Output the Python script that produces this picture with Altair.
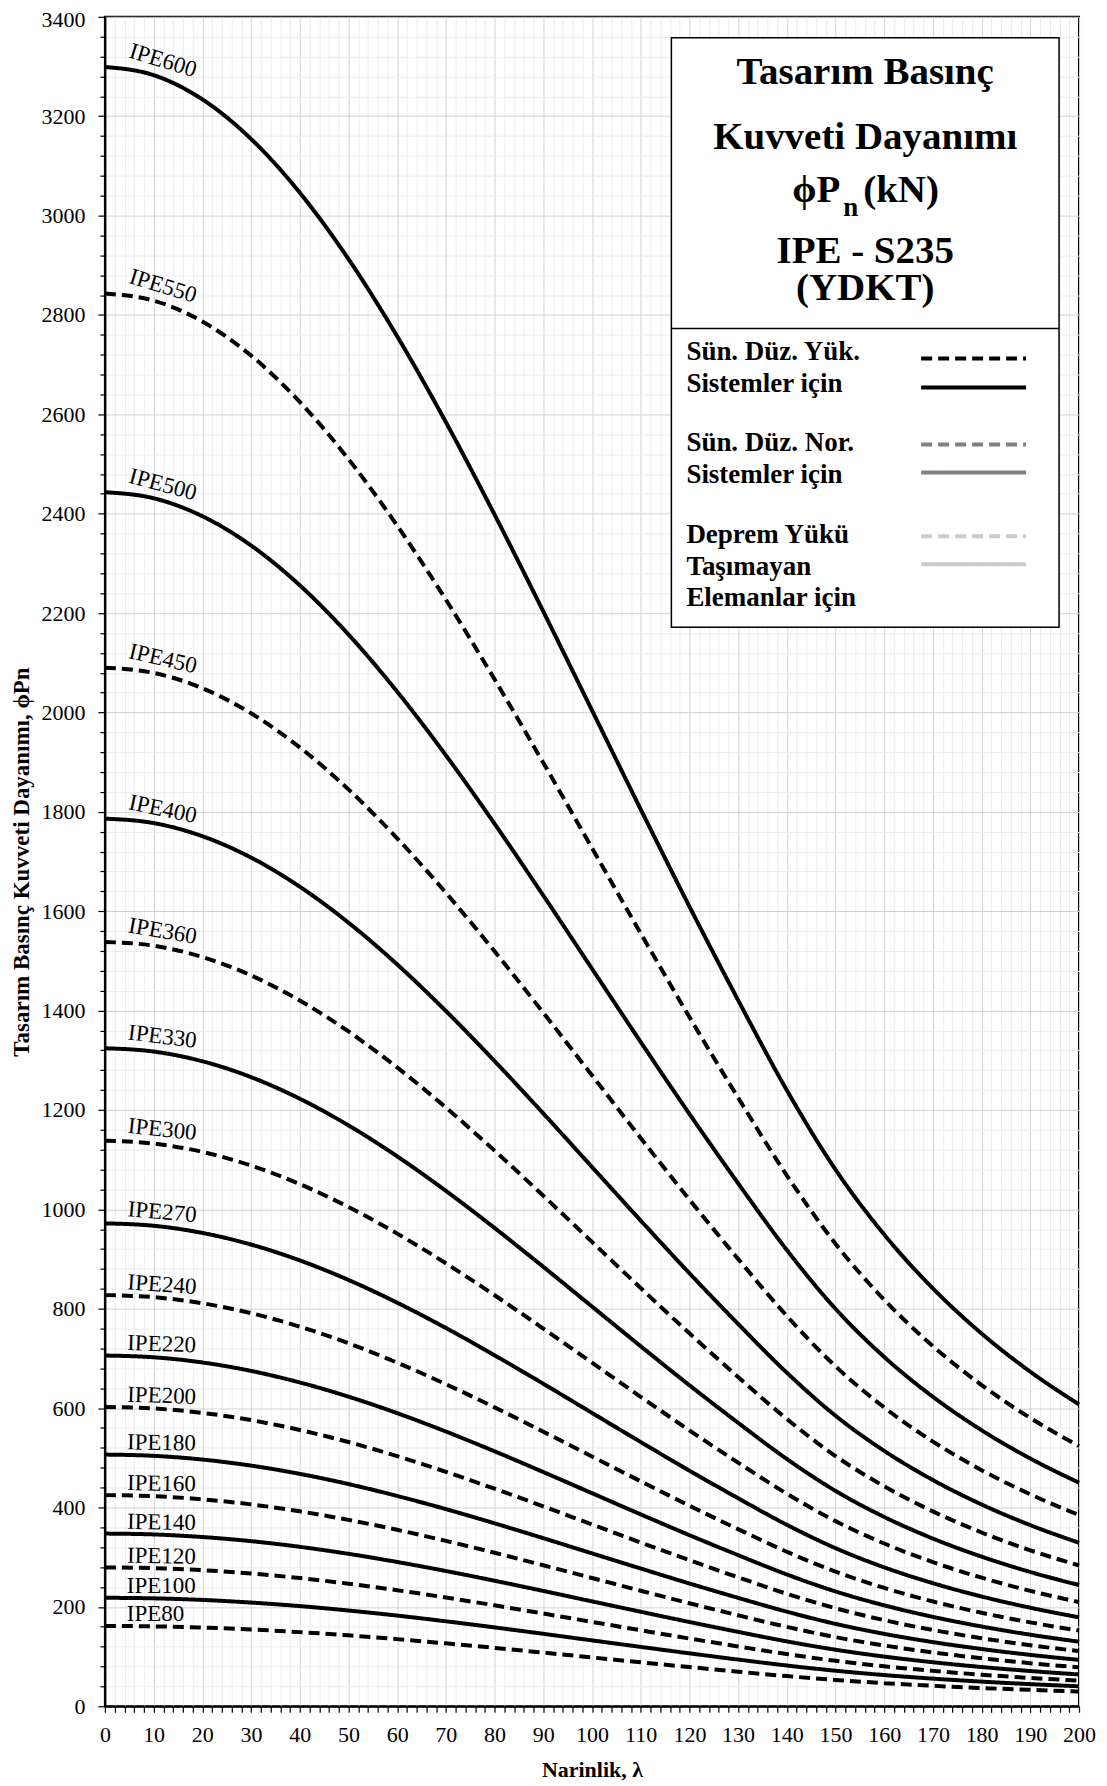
import altair as alt
import pandas as pd

# ---- data ----
lam = [0, 10, 20, 30, 40, 50, 60, 70, 80, 90, 100, 110, 120, 130, 140, 150, 160, 170, 180, 190, 200]

sections = ["IPE80", "IPE100", "IPE120", "IPE140", "IPE160", "IPE180", "IPE200", "IPE220", "IPE240",
            "IPE270", "IPE300", "IPE330", "IPE360", "IPE400", "IPE450", "IPE500", "IPE550", "IPE600"]
line_style = ["dashed", "solid", "dashed", "solid", "dashed", "solid", "dashed", "solid", "dashed",
              "solid", "dashed", "solid", "dashed", "solid", "dashed", "solid", "dashed", "solid"]

ipe80 = [161.6, 160.8, 158.4, 154.5, 149.2, 142.7, 135.1, 126.6, 117.5, 107.9, 98.2, 88.4, 78.9, 69.6, 60.7, 52.9, 46.5, 41.2, 36.7, 33.0, 29.8]
ipe100 = [218.3, 217.2, 214.0, 208.7, 201.6, 192.7, 182.5, 171.0, 158.7, 145.8, 132.6, 119.5, 106.5, 94.0, 82.0, 71.5, 62.8, 55.6, 49.6, 44.5, 40.2]
ipe120 = [279.4, 278.0, 273.9, 267.1, 258.0, 246.7, 233.5, 218.9, 203.1, 186.6, 169.8, 152.9, 136.3, 120.4, 105.0, 91.5, 80.4, 71.2, 63.5, 57.0, 51.5]
ipe140 = [347.5, 345.8, 340.6, 332.3, 320.9, 306.8, 290.4, 272.2, 252.6, 232.1, 211.1, 190.2, 169.6, 149.7, 130.6, 113.8, 100.0, 88.6, 79.0, 70.9, 64.0]
ipe160 = [424.9, 422.8, 416.5, 406.3, 392.3, 375.1, 355.1, 332.8, 308.9, 283.8, 258.2, 232.5, 207.3, 183.0, 159.7, 139.1, 122.3, 108.3, 96.6, 86.7, 78.2]
ipe180 = [506.5, 504.0, 496.5, 484.3, 467.7, 447.2, 423.3, 396.8, 368.2, 338.3, 307.7, 277.2, 247.1, 218.2, 190.4, 165.8, 145.7, 129.1, 115.2, 103.4, 93.3]
ipe200 = [602.3, 599.3, 590.4, 575.9, 556.1, 531.8, 503.4, 471.8, 437.8, 402.3, 365.9, 329.6, 293.9, 259.5, 226.4, 197.2, 173.3, 153.5, 136.9, 122.9, 110.9]
ipe220 = [705.8, 702.3, 691.9, 674.9, 651.7, 623.1, 589.9, 552.9, 513.1, 471.4, 428.8, 386.2, 344.4, 304.1, 265.3, 231.1, 203.1, 179.9, 160.5, 144.0, 130.0]
ipe240 = [827.4, 823.3, 811.1, 791.1, 764.0, 730.5, 691.5, 648.2, 601.5, 552.6, 502.7, 452.8, 403.7, 356.4, 311.0, 270.9, 238.1, 210.9, 188.1, 168.8, 152.4]
ipe270 = [971.8, 967.0, 952.6, 929.2, 897.3, 858.0, 812.2, 761.3, 706.4, 649.1, 590.4, 531.8, 474.2, 418.7, 365.2, 318.2, 279.6, 247.7, 220.9, 198.3, 179.0]
ipe300 = [1138.1, 1132.4, 1115.6, 1088.2, 1050.9, 1004.8, 951.2, 891.5, 827.3, 760.1, 691.5, 622.8, 555.3, 490.3, 427.7, 372.6, 327.5, 290.1, 258.8, 232.2, 209.6]
ipe330 = [1324.2, 1317.6, 1298.1, 1266.1, 1222.7, 1169.1, 1106.8, 1037.3, 962.6, 884.4, 804.5, 724.6, 646.1, 570.5, 497.7, 433.5, 381.0, 337.5, 301.1, 270.2, 243.9]
ipe360 = [1538.2, 1530.6, 1507.8, 1470.8, 1420.3, 1358.0, 1285.6, 1205.0, 1118.2, 1027.4, 934.6, 841.7, 750.6, 662.7, 578.1, 503.6, 442.6, 392.1, 349.7, 313.9, 283.3]
ipe400 = [1786.3, 1777.4, 1751.0, 1708.0, 1649.4, 1577.1, 1493.0, 1399.3, 1298.5, 1193.1, 1085.3, 977.5, 871.6, 769.5, 671.4, 584.8, 514.0, 455.3, 406.1, 364.5, 329.0]
ipe450 = [2090.0, 2079.6, 2048.8, 1998.4, 1929.8, 1845.2, 1746.8, 1637.2, 1519.3, 1395.9, 1269.8, 1143.6, 1019.8, 900.4, 785.5, 684.3, 601.4, 532.7, 475.2, 426.5, 384.9]
ipe500 = [2443.2, 2431.1, 2395.0, 2336.1, 2256.0, 2157.0, 2042.0, 1913.9, 1776.1, 1631.8, 1484.4, 1336.9, 1192.2, 1052.5, 918.3, 799.9, 703.0, 622.8, 555.5, 498.6, 449.9]
ipe550 = [2843.0, 2828.9, 2786.9, 2718.3, 2625.1, 2510.0, 2376.1, 2227.1, 2066.7, 1898.8, 1727.3, 1555.7, 1387.2, 1224.8, 1068.5, 930.8, 818.1, 724.7, 646.4, 580.1, 523.6]
ipe600 = [3299.0, 3282.6, 3233.9, 3154.3, 3046.2, 2912.6, 2757.2, 2584.3, 2398.2, 2203.4, 2004.4, 1805.2, 1609.7, 1421.2, 1239.9, 1080.1, 949.3, 840.9, 750.1, 673.2, 607.5]

series = [ipe80, ipe100, ipe120, ipe140, ipe160, ipe180, ipe200, ipe220, ipe240,
          ipe270, ipe300, ipe330, ipe360, ipe400, ipe450, ipe500, ipe550, ipe600]

label_x = [4.5] * 18
label_y = [163, 220, 281, 349, 427, 509, 605, 709, 831, 978, 1146, 1334, 1550, 1798, 2102, 2455, 2857, 3311]
label_angle = [0, 0, 1, 1, 1, 1, 2, 2, 4, 5, 6, 7, 10, 12, 13, 15, 17, 17]

x_ticks = list(range(0, 201, 2))
y_ticks = list(range(0, 3401, 40))

# ---- build tables ----
rows = []
for name, style, vals in zip(sections, line_style, series):
    for x, v in zip(lam, vals):
        rows.append({"section": name, "style": style, "lam": x, "pn": v})
df = pd.DataFrame(rows)

lab = pd.DataFrame({"section": sections, "lam": label_x, "pn": label_y, "angle": label_angle})
one = pd.DataFrame({"k": [0]})

W, H = 975, 1691
SERIF = "Liberation Serif"

x_scale = alt.Scale(domain=[0, 200], nice=False, zero=False)
y_scale = alt.Scale(domain=[0, 3400], nice=False)

x_axis = alt.Axis(
    values=x_ticks, format="d",
    labelExpr="datum.value % 10 === 0 ? datum.label : ''",
    labelOverlap=False, labelFlush=False, labelBound=False, labelSeparation=0,
    labelFont=SERIF, labelFontSize=22, labelColor="black", labelPadding=12,
    tickColor="black", tickSize=6, tickWidth=1.2,
    domainColor="black", domainWidth=2,
    gridColor={"condition": {"test": "datum.value % 10 === 0", "value": "#d2d2d2"}, "value": "#ececec"},
    gridWidth=1,
    title="Narinlik, λ", titleFont=SERIF, titleFontSize=22, titleFontWeight="bold", titleColor="black",
    titleX=W / 2, titleY=63, titleBaseline="middle", titleAlign="center",
)
y_axis = alt.Axis(
    values=y_ticks, format="d",
    labelExpr="datum.value % 200 === 0 ? datum.label : ''",
    labelOverlap=False, labelFlush=False, labelBound=False, labelSeparation=0,
    labelFont=SERIF, labelFontSize=22, labelColor="black", labelPadding=13,
    labelOffset={"condition": {"test": "datum.value === 3400", "value": 3}, "value": 0},
    tickColor="black", tickWidth=1.2,
    tickSize={"condition": {"test": "datum.value % 200 === 0", "value": 7}, "value": 5},
    domainColor="black", domainWidth=2,
    gridColor={"condition": {"test": "datum.value % 200 === 0", "value": "#d2d2d2"}, "value": "#ececec"},
    gridWidth=1,
    title="Tasarım Basınç Kuvveti Dayanımı, ϕPn", titleFont=SERIF, titleFontSize=23,
    titleFontWeight="bold", titleColor="black",
    titleX=-83, titleY=H / 2, titleAngle=-90, titleBaseline="middle", titleAlign="center",
)

lines = alt.Chart(df).mark_line(strokeWidth=4, interpolate="monotone", color="black").encode(
    x=alt.X("lam:Q", scale=x_scale, axis=x_axis),
    y=alt.Y("pn:Q", scale=y_scale, axis=y_axis),
    detail="section:N",
    strokeDash=alt.StrokeDash("style:N", scale=alt.Scale(domain=["solid", "dashed"], range=[[1, 0], [11, 6]]), legend=None),
)

labels = alt.Chart(lab).mark_text(align="left", baseline="alphabetic", font=SERIF, fontSize=23,
                                  color="black", dy=-4).encode(
    x=alt.X("lam:Q", scale=x_scale, axis=x_axis),
    y=alt.Y("pn:Q", scale=y_scale, axis=y_axis),
    text="section:N",
    angle=alt.Angle("angle:Q", scale=None),
)

# ---- legend box (pixel layout) ----
bx0, bx1, by0, by1, bdiv = 567, 955, 21, 611, 312
box = alt.Chart(one).mark_rect(fill="white", stroke="black", strokeWidth=1.5).encode(
    x=alt.value(bx0), x2=alt.value(bx1), y=alt.value(by0), y2=alt.value(by1))
divider = alt.Chart(one).mark_rule(color="black", strokeWidth=1.5).encode(
    x=alt.value(bx0), x2=alt.value(bx1), y=alt.value(bdiv))

layers = [lines, labels, box, divider]

cx = (bx0 + bx1) / 2
title_lines = [("Tasarım Basınç", 67), ("Kuvveti Dayanımı", 132)]
for t, yy in title_lines:
    layers.append(alt.Chart(one).mark_text(text=t, font=SERIF, fontSize=39, fontWeight="bold",
                                           align="center", baseline="alphabetic", color="black").encode(
        x=alt.value(cx), y=alt.value(yy)))
layers.append(alt.Chart(one).mark_text(text=["IPE - S235", "(YDKT)"], lineHeight=37, font=SERIF, fontSize=39,
                                       fontWeight="bold", align="center", baseline="alphabetic",
                                       color="black").encode(
    x=alt.value(cx), y=alt.value(246)))
layers.append(alt.Chart(one).mark_text(text="ϕP", font=SERIF, fontSize=39, fontWeight="bold",
                                       align="right", baseline="alphabetic", color="black").encode(
    x=alt.value(736), y=alt.value(185)))
layers.append(alt.Chart(one).mark_text(text="n", font=SERIF, fontSize=27, fontWeight="bold",
                                       align="left", baseline="alphabetic", color="black").encode(
    x=alt.value(739), y=alt.value(199)))
layers.append(alt.Chart(one).mark_text(text="(kN)", font=SERIF, fontSize=39, fontWeight="bold",
                                       align="left", baseline="alphabetic", color="black").encode(
    x=alt.value(759), y=alt.value(185)))

legend_text = [("Sün. Düz. Yük.", 344), ("Sistemler için", 376), ("Sün. Düz. Nor.", 435),
               ("Sistemler için", 467), ("Deprem Yükü", 527), ("Taşımayan", 559), ("Elemanlar için", 590)]
for t, yy in legend_text:
    layers.append(alt.Chart(one).mark_text(text=t, font=SERIF, fontSize=27, fontWeight="bold",
                                           align="left", baseline="alphabetic", color="black").encode(
        x=alt.value(582), y=alt.value(yy)))

legend_samples = [("black", [11, 6], 342), ("black", [1, 0], 371),
                  ("#808080", [11, 6], 428), ("#808080", [1, 0], 456),
                  ("#cccccc", [11, 6], 520), ("#cccccc", [1, 0], 548)]
for col, dash, yy in legend_samples:
    layers.append(alt.Chart(one).mark_rule(color=col, strokeWidth=4, strokeDash=dash).encode(
        x=alt.value(817), x2=alt.value(922), y=alt.value(yy)))

chart = alt.layer(*layers).properties(
    width=W, height=H,
    autosize=alt.AutoSizeParams(type="none"),
    padding={"left": 97, "top": 8, "right": 20, "bottom": 77},
    background="white",
).configure_view(stroke="black", strokeWidth=2).configure_axis(labelOverlap=False)

chart.save("out.html", embed_options={"renderer": "svg", "actions": False})
